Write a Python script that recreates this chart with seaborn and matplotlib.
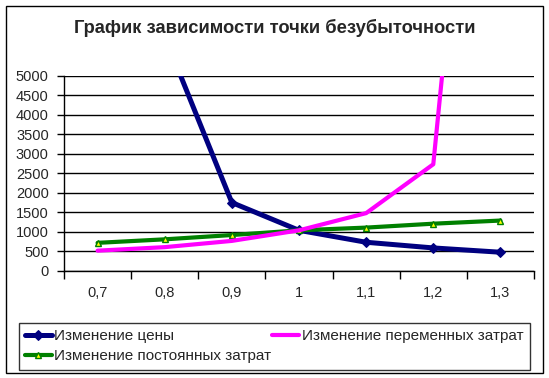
import matplotlib
matplotlib.use('Agg')
import matplotlib.pyplot as plt
import matplotlib.patches as mpatches
import pandas as pd
import seaborn as sns

# данные с графика
coef = ['0,7', '0,8', '0,9', '1', '1,1', '1,2', '1,3']
price_change = [14000, 6000, 1750, 1040, 735, 590, 480]
var_change = [520, 610, 770, 1040, 1480, 2730, 20000]
fixed_change = [720, 810, 920, 1040, 1110, 1210, 1290]
y_ticks = list(range(0, 5001, 500))

sns.set_style('white')
plt.rcParams['font.family'] = ['Liberation Sans', 'DejaVu Sans']

df = pd.DataFrame({'coef': coef, 'price': price_change,
                   'var': var_change, 'fixed': fixed_change})

fig = plt.figure(figsize=(5.49, 3.78), dpi=100)
ax = fig.add_axes([64 / 549, 1 - 271 / 378, 470 / 549, 195.5 / 378])

sns.lineplot(data=df, x='coef', y='price', sort=False, ax=ax, color='#000080',
             lw=3.6, marker='D', markersize=5, markeredgecolor='#000080',
             label='Изменение цены')
sns.lineplot(data=df, x='coef', y='fixed', sort=False, ax=ax, color='#008000',
             lw=3.0, marker='^', markersize=5, markerfacecolor='#FFFF00',
             markeredgecolor='#008000', markeredgewidth=1,
             label='Изменение постоянных затрат')
sns.lineplot(data=df, x='coef', y='var', sort=False, ax=ax, color='#FF00FF',
             lw=3.0, label='Изменение переменных затрат')

ax.set_ylim(0, 5000)
ax.set_xlim(-0.5, len(coef) - 0.5)
ax.set_yticks(y_ticks)
ax.set_yticklabels([str(v) for v in y_ticks], fontsize=10.5)
ax.yaxis.grid(True, color='black', lw=1)
ax.xaxis.grid(False)
ax.set_axisbelow(True)

ax.set_xticks([i - 0.5 for i in range(len(coef) + 1)])
ax.set_xticklabels([])
ax.set_xticks(range(len(coef)), minor=True)
ax.set_xticklabels(coef, minor=True, fontsize=10.5)
ax.tick_params(axis='x', which='major', length=6, width=1, color='black', direction='out', bottom=True)
ax.tick_params(axis='x', which='minor', length=0, pad=11)
ax.tick_params(axis='y', length=5, width=1, color='black', direction='out', left=True, pad=6)
ax.set_xlabel('')
ax.set_ylabel('')
for s in ['top', 'right']:
    ax.spines[s].set_visible(False)
for s in ['left', 'bottom']:
    ax.spines[s].set_color('black')
    ax.spines[s].set_linewidth(1)

ax.get_legend().remove()
h, l = ax.get_legend_handles_labels()
leg = fig.legend(h, l, ncol=2, loc='lower left',
                 bbox_to_anchor=(18.5 / 549, 1 - 369.5 / 378, 511 / 549, 51 / 378),
                 mode='expand', borderaxespad=0, fontsize=11, frameon=True,
                 fancybox=False, edgecolor='black', handlelength=1.8,
                 handletextpad=0.15, labelspacing=0.4, borderpad=0.4)
leg.get_frame().set_linewidth(1)

fig.text(0.5, 1 - 28 / 378, 'График зависимости точки безубыточности',
         ha='center', va='center', fontsize=13.2, fontweight='bold')

fig.patches.append(mpatches.Rectangle((5.5 / 549, 1 - 372.5 / 378), 537.5 / 549, 367 / 378,
                                      transform=fig.transFigure, fill=False,
                                      edgecolor='black', lw=1))

plt.savefig('out.png', dpi=100)
